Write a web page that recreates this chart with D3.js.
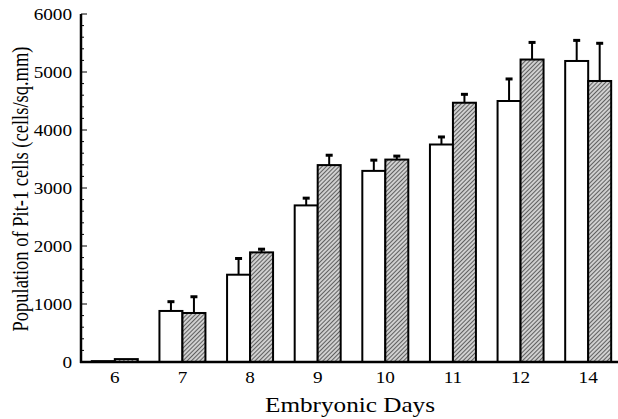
<!DOCTYPE html>
<html lang="en">
  <head>
    <meta charset="utf-8">
    <title>Pit-1 cells</title>
    <style>
      body { margin: 0; background: #fff; }
      svg text { font-family: "Liberation Serif", "Times New Roman", serif; fill: #000; }
    </style>
  </head>
  <body>
    <div id="chart"></div>
    <script src="https://d3js.org/d3.v7.min.js"></script>
    <script>
      // data
      var days = ["6", "7", "8", "9", "10", "11", "12", "14"]
      var openValues = [15, 880, 1505, 2700, 3295, 3750, 4500, 5190]
      var openErrors = [0, 160, 280, 125, 185, 130, 380, 355]
      var hatchValues = [50, 845, 1890, 3395, 3490, 4470, 5215, 4845]
      var hatchErrors = [0, 280, 55, 170, 60, 145, 295, 650]
      var yTicks = [0, 1000, 2000, 3000, 4000, 5000, 6000]

      var W = 618, H = 419
      var plotLeft = 81, plotTop = 14, plotBottom = 362
      var stretch = 1.2 // the original figure is a bit wide, text looks stretched

      var svg = d3.select("#chart").append("svg")
        .attr("width", W)
        .attr("height", H)

      var defs = svg.append("defs")
      var pat = defs.append("pattern")
        .attr("id", "hatch")
        .attr("patternUnits", "userSpaceOnUse")
        .attr("width", 3)
        .attr("height", 3)
        .attr("patternTransform", "rotate(45)")
      pat.append("rect").attr("width", 3).attr("height", 3).attr("fill", "#d0d0d0")
      pat.append("line")
        .attr("x1", 0).attr("y1", 0).attr("x2", 0).attr("y2", 3)
        .attr("stroke", "#222").attr("stroke-width", 1.3)

      var x = d3.scaleBand()
        .domain(days)
        .range([plotLeft, 622])
        .paddingInner(0.32)
        .paddingOuter(0.16)

      var y = d3.scaleLinear()
        .domain([0, 6000])
        .range([plotBottom, plotTop])

      var rows = days.map(function (d, i) {
        return [
          {day: d, k: 0, v: openValues[i], e: openErrors[i]},
          {day: d, k: 1, v: hatchValues[i], e: hatchErrors[i]}
        ]
      })
      var bars = [].concat.apply([], rows)
      var bw = x.bandwidth() / 2

      // error bars (drawn first so the bar top covers the stem base)
      var err = svg.append("g").selectAll("g")
        .data(bars.filter(function (d) { return d.e > 0 }))
        .join("g")
      err.append("line")
        .attr("x1", function (d) { return x(d.day) + d.k * bw + bw / 2 })
        .attr("x2", function (d) { return x(d.day) + d.k * bw + bw / 2 })
        .attr("y1", function (d) { return y(d.v) })
        .attr("y2", function (d) { return y(d.v + d.e) })
        .attr("stroke", "#000").attr("stroke-width", 2)
      err.append("line")
        .attr("x1", function (d) { return x(d.day) + d.k * bw + bw / 2 - 3.5 })
        .attr("x2", function (d) { return x(d.day) + d.k * bw + bw / 2 + 3.5 })
        .attr("y1", function (d) { return y(d.v + d.e) })
        .attr("y2", function (d) { return y(d.v + d.e) })
        .attr("stroke", "#000").attr("stroke-width", 3)

      svg.append("g").selectAll("rect")
        .data(bars)
        .join("rect")
        .attr("x", function (d) { return x(d.day) + d.k * bw })
        .attr("y", function (d) { return y(d.v) })
        .attr("width", bw)
        .attr("height", function (d) { return plotBottom - y(d.v) })
        .attr("fill", function (d) { return d.k ? "url(#hatch)" : "#fff" })
        .attr("stroke", "#000")
        .attr("stroke-width", 2)

      // y axis with inward ticks
      var yAxis = svg.append("g")
        .attr("transform", "translate(" + plotLeft + ",0)")
      yAxis.append("line")
        .attr("y1", plotTop).attr("y2", plotBottom + 1)
        .attr("stroke", "#000").attr("stroke-width", 2.5)
      yAxis.selectAll(".minor")
        .data(d3.range(0, 6001, 200))
        .join("line")
        .attr("x1", 0)
        .attr("x2", function (d) { return d % 1000 === 0 ? 6 : 3 })
        .attr("y1", function (d) { return y(d) })
        .attr("y2", function (d) { return y(d) })
        .attr("stroke", "#000").attr("stroke-width", 1)
      yAxis.selectAll("text")
        .data(yTicks)
        .join("text")
        .attr("transform", function (d) { return "translate(-9," + y(d) + ") scale(" + stretch + ",1)" })
        .attr("dy", "0.35em")
        .attr("text-anchor", "end")
        .attr("font-size", 16)
        .text(function (d) { return d })

      // x axis
      svg.append("line")
        .attr("x1", plotLeft - 1).attr("x2", W)
        .attr("y1", plotBottom).attr("y2", plotBottom)
        .attr("stroke", "#000").attr("stroke-width", 2.5)
      svg.append("g").selectAll("text")
        .data(days)
        .join("text")
        .attr("transform", function (d) { return "translate(" + (x(d) + x.bandwidth() / 2) + ",383) scale(" + stretch + ",1)" })
        .attr("text-anchor", "middle")
        .attr("font-size", 16)
        .text(function (d) { return d })

      svg.append("text")
        .attr("transform", "translate(350,412) scale(" + stretch + ",1)")
        .attr("text-anchor", "middle")
        .attr("font-size", 21)
        .text("Embryonic Days")

      svg.append("text")
        .attr("transform", "translate(28,189) rotate(-90) scale(1," + stretch + ")")
        .attr("text-anchor", "middle")
        .attr("font-size", 18.5)
        .text("Population of Pit-1 cells (cells/sq.mm)")
    </script>
  </body>
</html>
